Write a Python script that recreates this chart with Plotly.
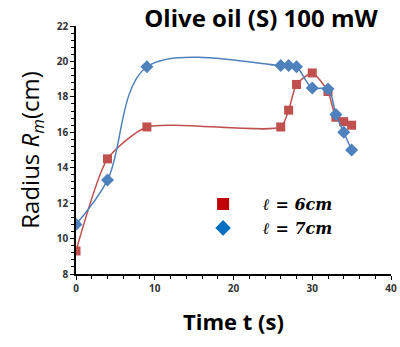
import plotly.graph_objects as go

t_red = [0, 4, 9, 26, 27, 28, 30, 32, 33, 34, 35]
r_red = [9.3, 14.5, 16.3, 16.3, 17.25, 18.7, 19.35, 18.3, 16.85, 16.6, 16.4]
t_blue = [0, 4, 9, 26, 27, 28, 30, 32, 33, 34, 35]
r_blue = [10.8, 13.3, 19.7, 19.77, 19.77, 19.7, 18.5, 18.45, 17.0, 16.0, 15.0]
legend_red = "ℓ = 6cm"
legend_blue = "ℓ = 7cm"

RED = "#C0504D"
BLUE = "#4F81BD"

fig = go.Figure()
fig.add_trace(go.Scatter(x=t_red, y=r_red, mode="lines+markers", showlegend=False,
                         line=dict(color=RED, width=1.5, shape="spline", smoothing=0.6),
                         marker=dict(symbol="square", size=9, color=RED)))
fig.add_trace(go.Scatter(x=t_blue, y=r_blue, mode="lines+markers", showlegend=False,
                         line=dict(color=BLUE, width=1.5, shape="spline", smoothing=1),
                         marker=dict(symbol="diamond", size=10, color=BLUE)))
fig.add_trace(go.Scatter(x=[None], y=[None], mode="markers", name=legend_red,
                         marker=dict(symbol="square", size=11, color="#C00000")))
fig.add_trace(go.Scatter(x=[None], y=[None], mode="markers", name=legend_blue,
                         marker=dict(symbol="diamond", size=12, color="#0070C0")))

tickfont = dict(family="Open Sans", size=10, color="#333333", weight="bold")
fig.update_layout(
    width=400, height=347,
    margin=dict(l=76, r=9, t=26, b=73),
    paper_bgcolor="white", plot_bgcolor="white",
    title=dict(text="<b>Olive oil (S) 100 mW</b>", x=261/400, xanchor="center", y=1 - 19/347, yanchor="middle",
               font=dict(family="Open Sans", size=24, color="black")),
    legend=dict(x=0.34, y=0.35, xanchor="left", yanchor="top", bgcolor="rgba(0,0,0,0)",
                font=dict(family="DejaVu Serif", size=16, color="black", style="italic", weight="bold"),
                itemsizing="constant", itemwidth=70, tracegroupgap=0),
    xaxis=dict(range=[0, 40], dtick=10, showline=True, linecolor="black", linewidth=1.5,
               ticks="outside", ticklen=4, tickcolor="black", showgrid=False, zeroline=False,
               tickfont=tickfont, automargin=False,
               minor=dict(dtick=2, ticks="outside", ticklen=3, tickcolor="black"),
               title=dict(text="<b>Time t (s)</b>", font=dict(family="Open Sans", size=22, color="black"), standoff=21)),
    yaxis=dict(range=[8, 22], dtick=2, showline=True, linecolor="black", linewidth=1.5,
               ticks="outside", ticklen=4, tickcolor="black", showgrid=False, zeroline=False,
               tickfont=tickfont, automargin=False,
               minor=dict(dtick=0.4, ticks="outside", ticklen=3, tickcolor="black"),
               title=dict(text="Radius <i>R</i><sub><i>m</i></sub>(cm)",
                          font=dict(family="Open Sans", size=24, color="black"), standoff=10)),
)
fig.write_html("out.html", config={"displayModeBar": False},
               post_script="document.body.style.margin='0';document.body.style.overflow='hidden';")
